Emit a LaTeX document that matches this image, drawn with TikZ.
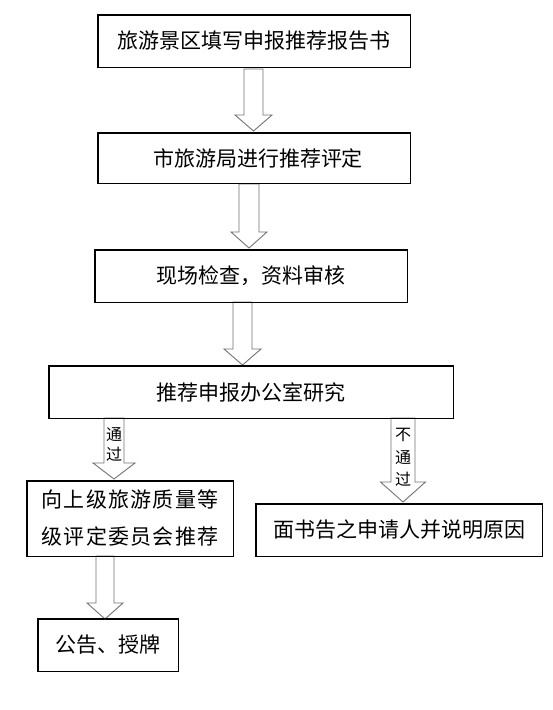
\documentclass[tikz,border=0pt]{standalone}
\usepackage{fontspec}
\newfontfamily\cjk{Noto Sans CJK SC}
\newcommand\blockarr[6]{% xc, ytop, ybase, ytip, shaft half, head half
  \draw[arr] ({#1-#5},#2) -- ({#1-#5},#3) -- ({#1-#6},#3) -- (#1,#4) -- ({#1+#6},#3) -- ({#1+#5},#3) -- ({#1+#5},#2) -- cycle;}
\begin{document}
\begin{tikzpicture}[x=1pt,y=-1pt,
  box/.style={draw=black,line width=0.8pt,inner sep=0pt,font=\cjk\fontsize{21}{37}\selectfont,text=black},
  arr/.style={draw=black!55,line width=0.9pt,fill=white,line join=miter},
  alab/.style={font=\cjk\fontsize{16}{16}\selectfont,inner sep=0pt,text=black}]
\useasboundingbox (0,0) rectangle (552,710);
\fill[white] (0,0) rectangle (552,710);
% boxes
\node[box,minimum width=312pt,minimum height=52pt] (b1) at (254,41) {旅游景区填写申报推荐报告书\hspace{22pt}};
\node[box,minimum width=312pt,minimum height=50pt] (b2) at (254,158) {\hspace{8pt}市旅游局进行推荐评定};
\node[box,minimum width=312pt,minimum height=52pt] (b3) at (251,276) {现场检查，资料审核};
\node[box,minimum width=404pt,minimum height=52pt] (b4) at (251,392) {推荐申报办公室研究};
\node[box,minimum width=206pt,minimum height=75pt,align=left,font=\cjk\fontsize{21}{37}\selectfont\addfontfeature{LetterSpace=6}] (b5) at (130,518.5) {向上级旅游质量等\\级评定委员会推荐};
\node[box,minimum width=286pt,minimum height=52pt] (b6) at (399,530) {面书告之申请人并说明原因};
\node[box,minimum width=140pt,minimum height=52pt] (b7) at (108,645) {公告、授牌};
% block arrows
\blockarr{253.5}{69}{115}{131}{9.5}{18.5}
\blockarr{249}{184}{232}{248}{10}{18}
\blockarr{242.5}{302}{349}{365}{9.5}{18.5}
\blockarr{114}{418}{463}{479}{10}{21}
\blockarr{403}{418}{482}{502}{12}{22.5}
\blockarr{105}{556}{603}{619}{9}{18}
\draw[box] (b1.south west) rectangle (b1.north east);
\draw[box] (b2.south west) rectangle (b2.north east);
\draw[box] (b3.south west) rectangle (b3.north east);
\draw[box] (b4.south west) rectangle (b4.north east);
\draw[box] (b5.south west) rectangle (b5.north east);
\draw[box] (b6.south west) rectangle (b6.north east);
\draw[box] (b7.south west) rectangle (b7.north east);
% arrow labels
\node[alab] (p1) at (114,435) {通};
\node[alab] (p2) at (114,454) {过};
\node[alab] (n1) at (403,435) {不};
\node[alab] (n2) at (403,458) {通};
\node[alab] (n3) at (403,479) {过};
\end{tikzpicture}
\end{document}
